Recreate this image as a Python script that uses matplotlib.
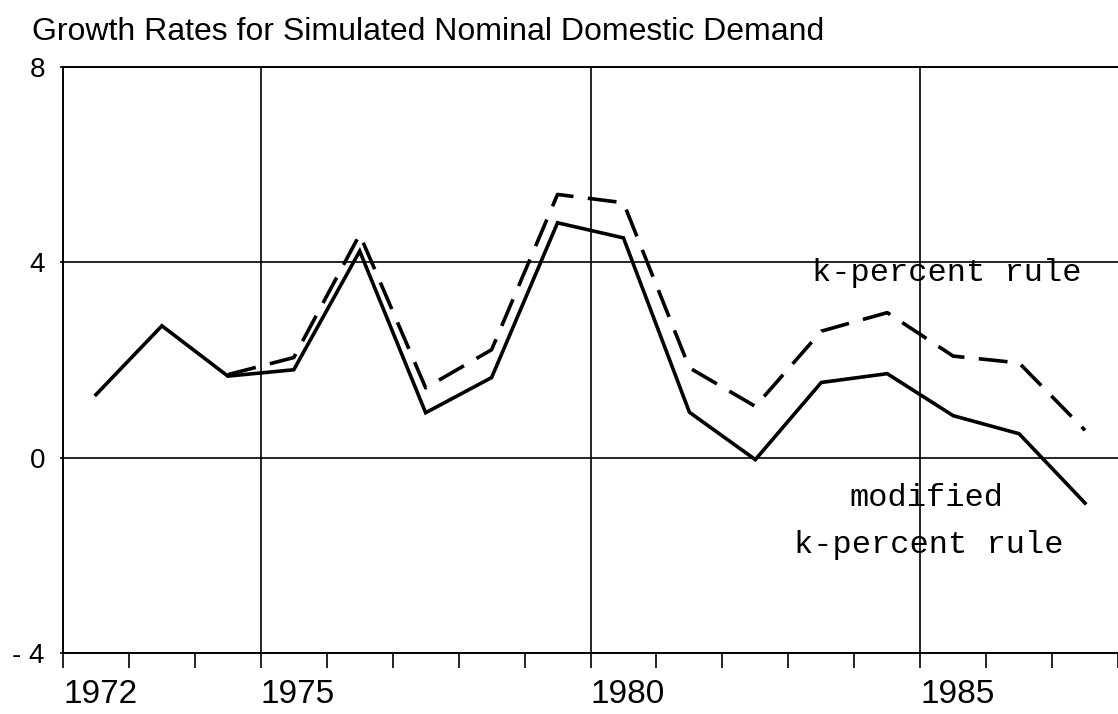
import matplotlib
matplotlib.use("Agg")
import matplotlib.pyplot as plt
from matplotlib.ticker import MultipleLocator

# Data (annual growth rates, plotted at mid-year)
years = [1972.5, 1973.5, 1974.5, 1975.5, 1976.5, 1977.5, 1978.5, 1979.5,
         1980.5, 1981.5, 1982.5, 1983.5, 1984.5, 1985.5, 1986.5, 1987.5]
modified_k = [1.29, 2.70, 1.67, 1.80, 4.23, 0.92, 1.64, 4.81,
              4.50, 0.93, -0.04, 1.54, 1.72, 0.86, 0.49, -0.93]
k_years = years[2:]
k_percent = [1.70, 2.05, 4.57, 1.43, 2.21, 5.39, 5.22,
             1.84, 1.05, 2.59, 2.97, 2.08, 1.94, 0.56]

x_ticks = [1972, 1975, 1980, 1985]
x_labels = ["1972", "1975", "1980", "1985"]
y_ticks = [-4, 0, 4, 8]
y_labels = ["- 4", "0", "4", "8"]
grid_x = [1975, 1980, 1985]
grid_y = [0, 4]

fig = plt.figure(figsize=(11.18, 7.14), dpi=100)
ax = fig.add_axes([63 / 1118, 1 - 653 / 714, 1 - 63 / 1118, (653 - 67) / 714])

for gx in grid_x:
    ax.axvline(gx, color="black", lw=1.2, zorder=1)
for gy in grid_y:
    ax.axhline(gy, color="black", lw=1.2, zorder=1)

ax.plot(years, modified_k, color="black", lw=2.6, solid_joinstyle="miter", zorder=3)
ax.plot(k_years, k_percent, color="black", lw=2.6, dashes=(8, 4), zorder=3)

ax.set_xlim(1972, 1988)
ax.set_ylim(-4, 8)

ax.set_xticks(x_ticks)
ax.set_xticklabels(x_labels, ha="left", fontsize=24,
                   family=["Liberation Sans Narrow", "Liberation Sans"])
ax.xaxis.set_minor_locator(MultipleLocator(1))
ax.tick_params(axis="x", which="both", direction="out", length=11, width=1.2, pad=8)

ax.set_yticks(y_ticks)
ax.set_yticklabels(y_labels, fontsize=20, family=["Liberation Sans", "DejaVu Sans"])
ax.tick_params(axis="y", direction="out", length=2, width=1.2, pad=11)

for side in ["left", "bottom", "top"]:
    ax.spines[side].set_linewidth(1.4)
ax.spines["right"].set_visible(False)

mono = ["Liberation Mono", "DejaVu Sans Mono"]
ax.text(1985.41, 3.79, "k-percent rule", ha="center", va="center", fontsize=23, family=mono)
ax.text(1985.10, -0.82, "modified", ha="center", va="center", fontsize=23, family=mono)
ax.text(1985.13, -1.78, "k-percent rule", ha="center", va="center", fontsize=23, family=mono)

fig.text(32 / 1118, 1 - 32 / 714, "Growth Rates for Simulated Nominal Domestic Demand",
         ha="left", va="center", fontsize=23, family=["Liberation Sans", "DejaVu Sans"])

fig.savefig("out.png", dpi=100)
